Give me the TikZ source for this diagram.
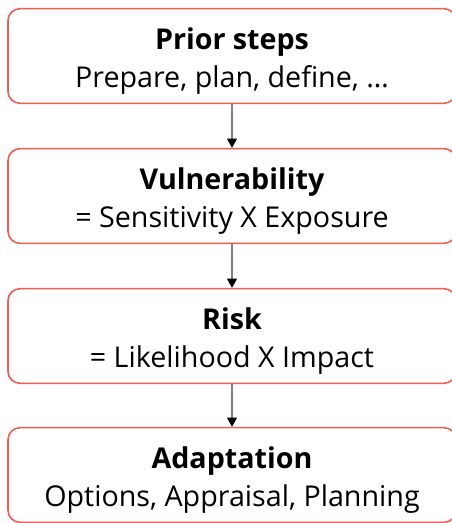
\documentclass[tikz,border=0pt]{standalone}
\usepackage{fontspec}
\setmainfont{Open Sans}
\usepackage{xcolor}
\usetikzlibrary{positioning}
\usetikzlibrary{arrows.meta}
\definecolor{boxline}{RGB}{240,92,84}
\definecolor{arrowline}{gray}{.5}
\newcommand{\steptitle}[1]{\rule{0pt}{24pt}\textbf{#1}}
\tikzset{
  stepbox/.style={draw=boxline, line width=1.2pt, rounded corners=9pt, fill=white,
    minimum width=336pt, minimum height=71pt, align=center, inner sep=0pt,
    font=\fontsize{21.5}{28}\selectfont},
  flow/.style={draw=arrowline, line width=0.9pt, -{Triangle[black,length=7pt,width=7.5pt]}}
}

\begin{document}
\begin{tikzpicture}[x=0.75pt, y=-0.75pt]
      \useasboundingbox (0,0) rectangle (451,523);
      \node [stepbox] (prior) at (232,56) {\steptitle{Prior steps}\\Prepare, plan, define, \dots};
      \node [stepbox] (vuln) at (232,196) {\steptitle{Vulnerability}\\= Sensitivity X Exposure};
      \node [stepbox] (risk) at (232,336) {\steptitle{Risk}\\= Likelihood X Impact};
      \node [stepbox] (adapt) at (232,475) {\steptitle{Adaptation}\\Options, Appraisal, Planning};
      \draw [flow] (prior) -- (vuln);
      \draw [flow] (vuln) -- (risk);
      \draw [flow] (risk) -- (adapt);
    \end{tikzpicture}
\end{document}
